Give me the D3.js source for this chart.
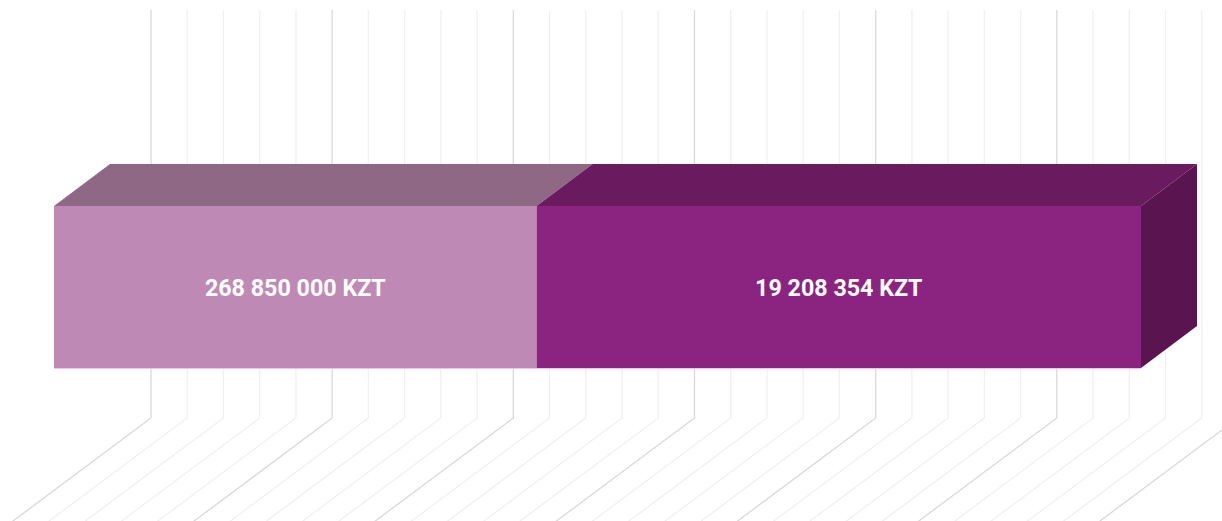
<!DOCTYPE html>
<html>
<head>
<meta charset="utf-8">
<script src="https://cdn.jsdelivr.net/npm/d3@7"></script>
<style>
  html, body { margin: 0; padding: 0; background: #fff; }
  svg { display: block; }
</style>
</head>
<body>
<svg id="chart"></svg>
<script>
// segment shares (percent of bar length) and their labels
const segments = ["Segment 1", "Segment 2"];
const shares = [44.4, 55.6];
const labels = ["268 850 000 KZT", "19 208 354 KZT"];

// colours per segment: front, top, side
const frontColors = ["#bf89b6", "#8b2381"];
const topColors = ["#8f6886", "#6a1b60"];
const sideColors = ["#8f6886", "#5a1550"];

// wall grid: 30 minor divisions, every 5th is major
const gridDivisions = 30;

class Bar3D {
  constructor(_config) {
    this.config = {
      parentElement: _config.parentElement,
      containerWidth: _config.containerWidth || 1222,
      containerHeight: _config.containerHeight || 521,
      barLeft: 54, barRight: 1141,
      barTop: 206, barBottom: 368,
      depth: { dx: 56, dy: -42 },
      wallShift: 97, wallTop: 10, floorY: 418
    };
    this.initVis();
  }

  initVis() {
    let vis = this;
    const c = vis.config;

    vis.svg = d3.select(c.parentElement)
      .attr('width', c.containerWidth)
      .attr('height', c.containerHeight);

    vis.xScale = d3.scaleLinear()
      .domain([0, d3.sum(shares)])
      .range([c.barLeft, c.barRight]);

    // back wall + floor grid lines
    const total = d3.sum(shares);
    const gridVals = d3.range(gridDivisions + 1).map(i => ({ i: i, v: i * total / gridDivisions }));
    const slope = 1.34;

    vis.svg.append('g').attr('class', 'grid')
      .selectAll('path')
      .data(gridVals)
      .join('path')
        .attr('fill', 'none')
        .attr('stroke', d => d.i % 5 === 0 ? '#d9d9d9' : '#f0f0f0')
        .attr('stroke-width', 1.3)
        .attr('d', d => {
          const xw = vis.xScale(d.v) + c.wallShift;
          const yEnd = c.containerHeight + 40;
          return d3.line()([
            [xw, c.wallTop],
            [xw, c.floorY],
            [xw - slope * (yEnd - c.floorY), yEnd]
          ]);
        });

    // stacked segments
    const stacked = [];
    let acc = 0;
    shares.forEach((s, i) => {
      stacked.push({ key: segments[i], x0: acc, x1: acc + s, i: i, label: labels[i] });
      acc += s;
    });
    vis.stacked = stacked;

    const dx = c.depth.dx, dy = c.depth.dy;
    const bars = vis.svg.append('g').attr('class', 'bars');

    // top faces
    bars.selectAll('.top')
      .data(stacked)
      .join('path')
        .attr('class', 'top')
        .attr('fill', d => topColors[d.i])
        .attr('d', d => {
          const a = vis.xScale(d.x0), b = vis.xScale(d.x1);
          return d3.line()([[a, c.barTop], [b, c.barTop], [b + dx, c.barTop + dy], [a + dx, c.barTop + dy]]) + 'Z';
        });

    // right side face of last segment
    const last = stacked[stacked.length - 1];
    bars.append('path')
      .attr('fill', sideColors[last.i])
      .attr('d', () => {
        const b = vis.xScale(last.x1);
        return d3.line()([[b, c.barTop], [b + dx, c.barTop + dy], [b + dx, c.barBottom + dy], [b, c.barBottom]]) + 'Z';
      });

    // front faces
    bars.selectAll('.front')
      .data(stacked)
      .join('rect')
        .attr('class', 'front')
        .attr('x', d => vis.xScale(d.x0))
        .attr('y', c.barTop)
        .attr('width', d => vis.xScale(d.x1) - vis.xScale(d.x0))
        .attr('height', c.barBottom - c.barTop)
        .attr('fill', d => frontColors[d.i]);

    // thin light edge along the bottom of the bar
    bars.append('line')
      .attr('x1', vis.xScale(0)).attr('x2', vis.xScale(total))
      .attr('y1', c.barBottom + 0.5).attr('y2', c.barBottom + 0.5)
      .attr('stroke', '#e9c6e4').attr('stroke-width', 1);

    // labels
    bars.selectAll('.label')
      .data(stacked)
      .join('text')
        .attr('class', 'label')
        .attr('transform', d => `translate(${(vis.xScale(d.x0) + vis.xScale(d.x1)) / 2},${(c.barTop + c.barBottom) / 2 + 1}) scale(0.97,1)`)
        .attr('text-anchor', 'middle')
        .attr('dominant-baseline', 'central')
        .attr('fill', '#fff')
        .style('font-family', 'Roboto, "Noto Sans", sans-serif')
        .style('font-weight', 'bold')
        .style('font-size', '24px')
        .text(d => d.label);
  }
}

new Bar3D({ parentElement: '#chart' });
</script>
</body>
</html>
